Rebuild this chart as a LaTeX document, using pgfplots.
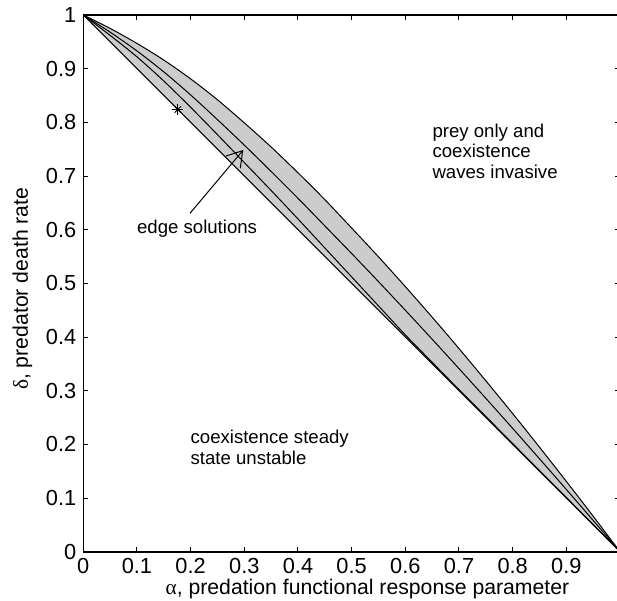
\documentclass[border=0pt]{standalone}
\usepackage{fontspec}
\setmainfont{Liberation Sans}
\newfontfamily\grk{Liberation Serif}
\usepackage{pgfplots}
\pgfplotsset{compat=1.18}
\usetikzlibrary{arrows.meta}

\pgfplotstableread{
a     up
0     1
0.05  0.975
0.1   0.947
0.15  0.916
0.2   0.881
0.25  0.842
0.3   0.799
0.35  0.754
0.4   0.706
0.45  0.656
0.5   0.6031
0.55  0.5494
0.6   0.4939
0.65  0.4370
0.7   0.3785
0.75  0.3185
0.8   0.2574
0.85  0.1948
0.9   0.1310
0.95  0.0661
1     0
}\upper

\begin{document}
\begin{tikzpicture}
\begin{axis}[
  name=ax,
  scale only axis,
  width=268.35bp, height=268.35bp,
  xmin=0, xmax=1, ymin=0, ymax=1,
  xtick={0,0.1,0.2,0.3,0.4,0.5,0.6,0.7,0.8,0.9},
  ytick={0,0.1,0.2,0.3,0.4,0.5,0.6,0.7,0.8,0.9,1},
  tick align=inside,
  major tick length=2.5bp,
  axis line style={line width=0.8bp},
  tick style={line width=0.5bp, black},
  /pgf/number format/assume math mode=true,
  tick label style={font=\fontsize{10.9bp}{13bp}\selectfont},
  label style={font=\fontsize{10.6bp}{12.5bp}\selectfont},
  xlabel={{\grk α}, predation functional response parameter},
  ylabel={{\grk δ}, predator death rate},
  xlabel style={at={(axis description cs:0.5295,-0.0695)}, anchor=center},
  ylabel style={at={(axis description cs:-0.1133,0.49)}, anchor=center},
]
% shaded band (upper boundary, then straight lower edge back to (0,1))
\addplot[fill=black!20, draw=none, forget plot] table[x=a, y=up] {\upper} -- (axis cs:0,1) -- cycle;
% band edges
\addplot[black, line width=0.5bp, smooth, tension=0.5] table[x=a, y=up] {\upper};
\addplot[black, line width=0.5bp] coordinates {(0,1) (1,0)};
% inner curve close to the lower edge
\addplot[black, line width=0.5bp, smooth, tension=0.5] coordinates {
  (0,1) (0.05,0.962) (0.1,0.922) (0.15,0.877) (0.2,0.828) (0.25,0.777)
  (0.3,0.725) (0.35,0.673) (0.4,0.620) (0.45,0.566) (0.5,0.512)
  (0.55,0.458) (0.6,0.404) (0.65,0.353) (0.7,0.302) (0.75,0.252)
  (0.8,0.2015) (0.85,0.151) (0.9,0.101) (0.95,0.0505) (1,0)
};
% middle curve
\addplot[black, line width=0.5bp, smooth, tension=0.5] coordinates {
  (0,1) (0.05,0.968) (0.1,0.933) (0.15,0.894) (0.2,0.851) (0.25,0.805)
  (0.3,0.7575) (0.35,0.7085) (0.4,0.6585) (0.45,0.6071) (0.5,0.5556)
  (0.55,0.5032) (0.6,0.4499) (0.65,0.3959) (0.7,0.3412) (0.75,0.2858)
  (0.8,0.2298) (0.85,0.1731) (0.9,0.1160) (0.95,0.0582) (1,0)
};
% star marker
\addplot[only marks, mark=+, mark size=2.7bp, black, line width=0.5bp] coordinates {(0.176,0.824)};
\addplot[only marks, mark=x, mark size=2.3bp, black, line width=0.5bp] coordinates {(0.176,0.824)};

\node[anchor=base west, inner sep=0pt, font=\fontsize{9.3bp}{10.4bp}\selectfont]
  at (axis cs:0.0995,0.5938) {edge solutions};
\draw[-{Straight Barb[length=7.5bp,width=9.5bp]}, line width=0.5bp]
  (axis cs:0.1988,0.6305) -- (axis cs:0.2981,0.7485);
\node[anchor=north west, align=left, inner sep=0pt, font=\fontsize{9.3bp}{10.4bp}\selectfont]
  at (axis cs:0.650,0.7983) {prey only and\\coexistence\\waves invasive};
\node[anchor=north west, align=left, inner sep=0pt, font=\fontsize{9.3bp}{10.4bp}\selectfont]
  at (axis cs:0.1992,0.228) {coexistence steady\\state unstable};
\end{axis}
\pgfresetboundingbox
\path[use as bounding box] ([shift={(-41.65bp,-24.65bp)}]ax.south west)
  rectangle ([shift={(266.85bp,275.85bp)}]ax.south west);
\end{tikzpicture}
\end{document}
